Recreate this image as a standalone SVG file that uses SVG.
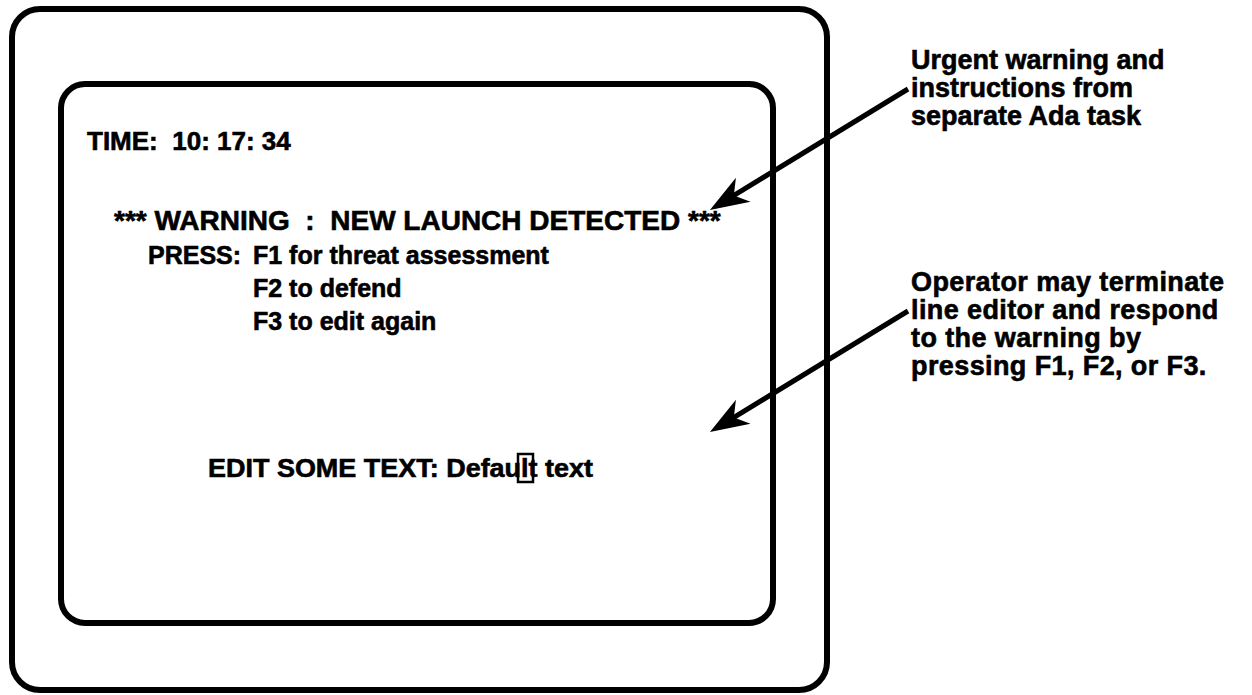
<svg xmlns="http://www.w3.org/2000/svg" width="1252" height="695" viewBox="0 0 1252 695">
<style>
.frame{fill:none;stroke:#000;stroke-width:6}
.t{font-family:"Liberation Sans",Arial,sans-serif;font-weight:bold;font-size:25px;fill:#000;stroke:#000;stroke-width:0.6}
.n{font-family:"Liberation Sans",Arial,sans-serif;font-weight:bold;font-size:27px;fill:#000;stroke:#000;stroke-width:0.6}
.wide{letter-spacing:0.4px}
.arrow{stroke:#000;stroke-width:5;fill:none;marker-end:url(#head)}
.cursor{fill:none;stroke:#000;stroke-width:2.5}
</style>
<defs>
<marker id="head" markerUnits="userSpaceOnUse" orient="auto" markerWidth="60" markerHeight="40" refX="0" refY="0" viewBox="-30 -20 60 40" overflow="visible">
<path d="M20,0 L-19,-14 L-8,0 L-19,14 Z" fill="#000"/>
</marker>
</defs>
<rect width="1252" height="695" fill="#fff"/>
<g id="monitor">
<rect class="frame" x="12" y="9" width="815" height="681" rx="28"/>
</g>
<g id="screen">
<rect class="frame" x="61" y="84" width="712" height="539" rx="24"/>
<text class="t" x="87" y="150" style="font-size:26px" xml:space="preserve">TIME:  10: 17: 34</text>
<text class="t" x="114" y="230" style="font-size:28px" xml:space="preserve">*** WARNING  :  NEW LAUNCH DETECTED ***</text>
<text class="t" x="148" y="264">PRESS:</text>
<text class="t" x="253" y="264">F1 for threat assessment</text>
<text class="t" x="253" y="297">F2 to defend</text>
<text class="t" x="253" y="330">F3 to edit again</text>
<text class="t" x="208" y="477" style="font-size:26px" textLength="385" lengthAdjust="spacingAndGlyphs">EDIT SOME TEXT: Default text</text>
<rect class="cursor" x="518" y="454" width="15" height="28"/>
</g>
<g id="note-warning">
<text class="n" x="911" y="69">Urgent warning and</text>
<text class="n" x="911" y="97">instructions from</text>
<text class="n" x="911" y="125">separate Ada task</text>
</g>
<g id="note-operator">
<text class="n wide" x="911" y="291">Operator may terminate</text>
<text class="n wide" x="911" y="319">line editor and respond</text>
<text class="n wide" x="911" y="347">to the warning by</text>
<text class="n wide" x="911" y="375">pressing F1, F2, or F3.</text>
</g>
<g id="connectors">
<line class="arrow" x1="908" y1="89" x2="727" y2="199.6"/>
<line class="arrow" x1="908" y1="311" x2="727" y2="421.6"/>
</g>
</svg>
